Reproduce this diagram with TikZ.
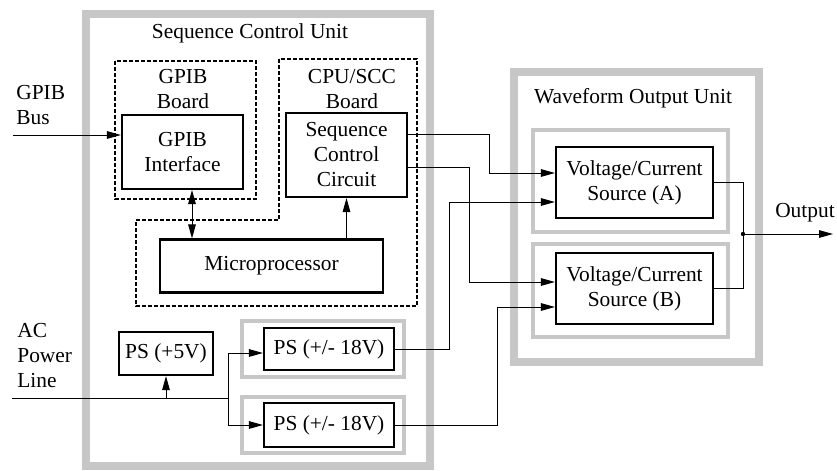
\documentclass[tikz,border=0pt]{standalone}
\usepackage{fontspec}
\setmainfont{Liberation Serif}
\usetikzlibrary{arrows.meta,positioning}

\begin{document}
\begin{tikzpicture}[x=0.5pt, y=-0.5pt, >={Triangle[length=7pt,width=3.8pt]},
    every node/.style={font=\fontsize{10.7}{12.5}\selectfont, align=center},
    blk/.style={draw, line width=1.1pt, inner sep=0pt},
    unitbox/.style={draw=black!22, line width=3.8pt},
    subbox/.style={draw=black!22, line width=1.8pt},
    board/.style={draw, dashed, dash pattern=on 2pt off 1pt, line width=0.6pt},
    wire/.style={line width=0.5pt}]
    \useasboundingbox (0,0) rectangle (837,471);

    % units
    \draw[unitbox] (86,14) rectangle (430,466);
    \draw[unitbox] (514,72) rectangle (759,362);
    \node (scutitle) at (250,33) {Sequence Control Unit};
    \node (woutitle) at (633,98) {Waveform Output Unit};

    % boards
    \draw[board] (115,61) rectangle (256,199);
    \draw[board] (279,59) -- (279,220) -- (136,220) -- (136,306) -- (417,306) -- (417,59) -- cycle;
    \node (gpibbd) at (183,89) {GPIB\\Board};
    \node (cpubd) at (352,89) {CPU/SCC\\Board};

    % power supply and source frames
    \draw[subbox] (242,321) rectangle (404,377);
    \draw[subbox] (242,397) rectangle (404,453);
    \draw[subbox] (533,130) rectangle (728,232);
    \draw[subbox] (533,244) rectangle (728,337);

    % blocks
    \node[blk, minimum width=60.5pt, minimum height=37pt] (gpib) at (182.5,152) {GPIB\\Interface};
    \node[blk, minimum width=60.5pt, minimum height=42pt] (scc) at (346.5,155) {Sequence\\Control\\Circuit};
    \node[blk, minimum width=111.5pt, minimum height=26.5pt] (micro) at (271.5,266) {Microprocessor};
    \node[blk, minimum width=47pt, minimum height=21.5pt] (ps5) at (166,353.5) {PS (+5V)};
    \node[blk, minimum width=65pt, minimum height=21pt] (psa) at (329,349) {PS (+/- 18V)};
    \node[blk, minimum width=65pt, minimum height=22pt] (psb) at (329,425) {PS (+/- 18V)};
    \node[blk, minimum width=78.5pt, minimum height=35.5pt] (va) at (634.5,182.5) {Voltage/Current\\Source (A)};
    \node[blk, minimum width=78.5pt, minimum height=35.5pt] (vb) at (634.5,288.5) {Voltage/Current\\Source (B)};

    % outside labels
    \node[anchor=west, align=left, inner sep=0pt] (buslbl) at (16,105) {GPIB\\Bus};
    \node[anchor=west, align=left, inner sep=0pt] (aclbl) at (17,356) {AC\\Power\\Line};
    \node (outlbl) at (805,213) {Output};

    \coordinate (busin) at (13,135);
    \coordinate (acin) at (12,398);
    \coordinate (acsplit) at (228,398);
    \coordinate (join) at (743,234);
    \coordinate (out) at (833,234);

    % connections
    \draw[wire, ->] (busin) -- (busin -| gpib.west);
    \draw[wire, <->] ([xshift=4.75pt]gpib.south) -- ([xshift=4.75pt]gpib.south |- micro.north);
    \draw[wire, ->] (micro.north -| scc.south) -- (scc.south);
    \draw[wire] (acin) -- (acsplit);
    \draw[wire, ->] (acin -| ps5.south) -- (ps5.south);
    \draw[wire, ->] (acsplit) |- ([yshift=-2pt]psa.west);
    \draw[wire, ->] (acsplit) |- (psb.west);
    \draw[wire, ->] ([yshift=10.5pt]scc.east) -- ++(40.5pt,0) |- ([yshift=4.75pt]va.west);
    \draw[wire, ->] ([yshift=-6pt]scc.east) -- ++(30.5pt,0) |- ([yshift=3.25pt]vb.west);
    \draw[wire, ->] (psa.east) -- ++(27pt,0) |- ([yshift=-9.75pt]va.west);
    \draw[wire, ->] (psb.east) -- ++(51pt,0) |- ([yshift=-9.25pt]vb.west);
    \draw[wire] (va.east) -| (join);
    \draw[wire] (vb.east) -| (join);
    \fill (join) circle (1.1pt);
    \draw[wire, ->] (join) -- (out);
\end{tikzpicture}
\end{document}
